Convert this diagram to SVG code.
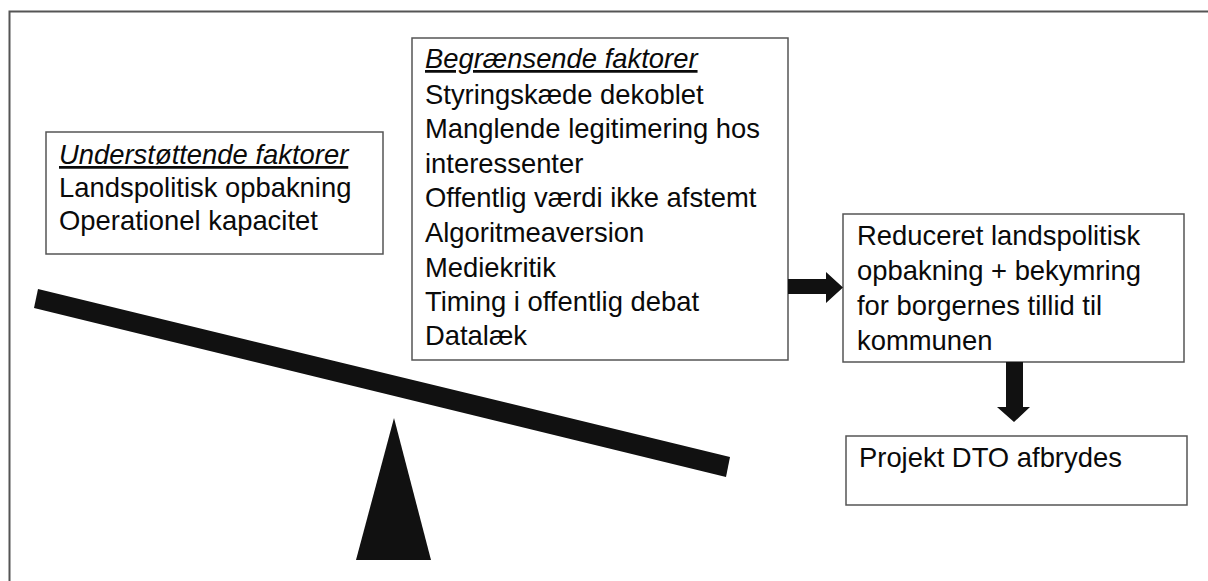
<svg xmlns="http://www.w3.org/2000/svg" width="1208" height="581" viewBox="0 0 1208 581">
<style>
.box{fill:#fff;stroke:#555;stroke-width:1.5}
.t{font-family:"Liberation Sans",Arial,sans-serif;font-size:27.4px;fill:#0a0a0a}
.h{font-style:italic;text-decoration:underline}
.solid{fill:#111;stroke:none}
</style>
<rect x="0" y="0" width="1208" height="581" fill="#fff"/>
<path d="M9.5 581 V11.5 H1208" fill="none" stroke="#555" stroke-width="2"/>
<g id="seesaw">
<polygon class="solid" points="38,289 730,457 726,477 34,308" fill="#1a1a1a"/>
<polygon class="solid" points="394,418 431,560 356,560"/>
</g>
<g id="supporting">
<rect class="box" x="46" y="132" width="337" height="122"/>
<text class="t"><tspan class="h" x="59" y="164">Understøttende faktorer</tspan><tspan x="59" y="197">Landspolitisk opbakning</tspan><tspan x="59" y="230">Operationel kapacitet</tspan></text>
</g>
<g id="limiting">
<rect class="box" x="412" y="38" width="376" height="322"/>
<text class="t"><tspan class="h" x="425" y="68">Begrænsende faktorer</tspan><tspan x="425" y="104">Styringskæde dekoblet</tspan><tspan x="425" y="138">Manglende legitimering hos</tspan><tspan x="425" y="173">interessenter</tspan><tspan x="425" y="207">Offentlig værdi ikke afstemt</tspan><tspan x="425" y="242">Algoritmeaversion</tspan><tspan x="425" y="277">Mediekritik</tspan><tspan x="425" y="311">Timing i offentlig debat</tspan><tspan x="425" y="345">Datalæk</tspan></text>
</g>
<g id="reduced">
<rect class="box" x="843" y="214" width="341" height="148"/>
<text class="t"><tspan x="857" y="245">Reduceret landspolitisk</tspan><tspan x="857" y="280">opbakning + bekymring</tspan><tspan x="857" y="315">for borgernes tillid til</tspan><tspan x="857" y="350">kommunen</tspan></text>
</g>
<g id="stopped">
<rect class="box" x="846" y="436" width="341" height="69"/>
<text class="t" x="859" y="467">Projekt DTO afbrydes</text>
</g>
<g id="connectors">
<polygon class="solid" points="788,279 826,279 826,272 843,287.5 826,303 826,294 788,294"/>
<polygon class="solid" points="1006,362 1023,362 1023,407 1030,407 1014,422 997,407 1006,407"/>
</g>
</svg>
